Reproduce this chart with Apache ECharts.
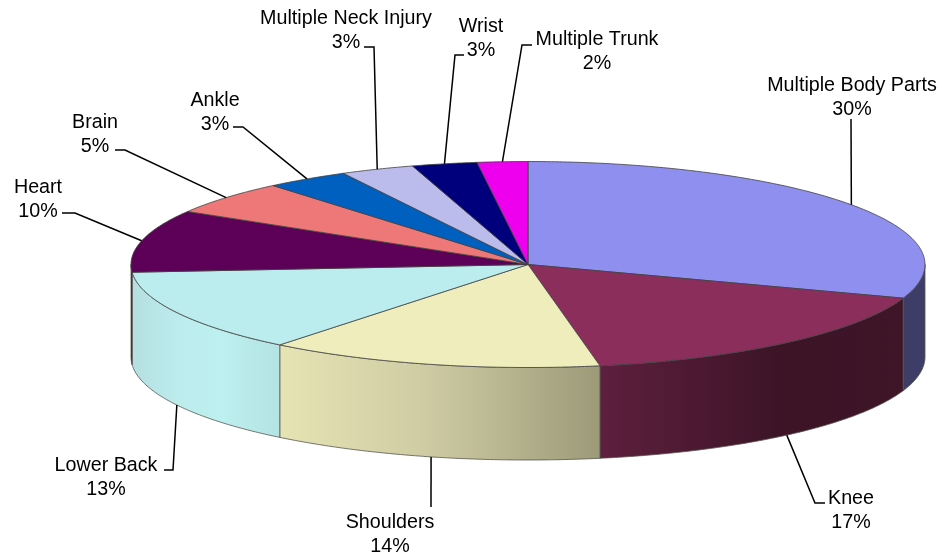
<!DOCTYPE html>
<html><head><meta charset="utf-8">
<style>html,body{margin:0;padding:0;background:#fff}#c{width:942px;height:553px}</style>
<script src="https://cdn.jsdelivr.net/npm/echarts@6/dist/echarts.min.js"></script>
</head><body><div id="c"></div>
<script>
const categories = ['Multiple Body Parts','Knee','Shoulders','Lower Back','Heart','Brain','Ankle','Multiple Neck Injury','Wrist','Multiple Trunk'];
const values = [30.3,16.8,13.65,13.05,9.8,5.3,3.4,3.0,2.65,2.05];
const topColors = ['#8f8ff0','#8c2e5c','#efedbc','#bcedee','#5d0058','#ee7777','#0060bf','#bcbcec','#00007d','#ee00ee'];
const wallStops = [
  [[0,'#3d3d68'],[1,'#3d3d68']],
  [[0,'#5e1f3e'],[0.6,'#3c1426'],[1,'#3f1528']],
  [[0,'#e6e3b4'],[0.45,'#cfcca4'],[1,'#9c9a78']],
  [[0,'#b5dfe1'],[0.3,'#bcebec'],[0.6,'#bdf0f0'],[1,'#b4e3e3']],
  [[0,'#3f0040'],[1,'#3f0040']],
  [[0,'#a05050'],[1,'#a05050']],
  [[0,'#004080'],[1,'#004080']],
  [[0,'#80809e'],[1,'#80809e']],
  [[0,'#000050'],[1,'#000050']],
  [[0,'#a000a0'],[1,'#a000a0']]
];
// label placement: centre x, first line y, leader elbow points (from label to pie)
const labelCenters = [[852,86],[851,499],[390,523],[106,466],[38,188],[95,123],[215,101],[346,19],[481,27],[597,40]];
const leaderElbows = [
  [[851,119]],
  [[825,503],[815,503]],
  [[431,507]],
  [[164,470],[173,470]],
  [[62,213],[75,213]],
  [[115,150],[125,150]],
  [[233,127],[243,127]],
  [[364,47],[374,47]],
  [[464,55],[455,55]],
  [[532,45],[522,45]]
];
const CX=528, CY=264.5, RX=397, RY=103, DEPTH=92.5;
const FONT='19.7px "Liberation Sans", Arial, sans-serif';
const total = values.reduce((a,b)=>a+b,0);
const pt=(t,dy=0)=>[CX+RX*Math.sin(t), CY-RY*Math.cos(t)+dy];
function arc(a,b,dy=0){const n=Math.max(2,Math.ceil(Math.abs(b-a)/0.01));const r=[];for(let i=0;i<=n;i++)r.push(pt(a+(b-a)*i/n,dy));return r;}
const TAU=Math.PI*2;

function renderItem(params, api){
  const i=api.value(0);
  let before=0; for(let k=0;k<i;k++) before+=values[k];
  const a=before/total*TAU, b=(before+api.value(1))/total*TAU, mid=(a+b)/2;
  const children=[];
  // visible wall: the part of the slice facing front (quarter to three-quarter turn)
  const wa=Math.max(a,Math.PI/2), wb=Math.min(b,Math.PI*1.5);
  if(wb>wa){
    const up=arc(wa,wb), lo=arc(wa,wb,DEPTH).reverse();
    const xs=up.map(p=>p[0]);
    const x0=Math.min(...xs), x1=Math.max(...xs);
    const stops=wallStops[i];
    // gradients run left-to-right on screen
    children.push({type:'polygon',shape:{points:up.concat(lo)},
      style:{fill:{type:'linear',x:x0,y:0,x2:x1,y2:0,global:true,
        colorStops:stops.map(s=>({offset:s[0],color:s[1]}))},
        stroke:'#55554f',lineWidth:0.8}});
  }
  // top face
  children.push({type:'polygon',z2:5,shape:{points:[[CX,CY]].concat(arc(a,b))},
    style:{fill:topColors[i],stroke:'#404040',lineWidth:0.8}});
  // leader: from label elbow(s) to the rim at the slice's middle
  const facing=Math.cos(mid)<0;
  const anchor=pt(mid,facing?DEPTH:0);
  children.push({type:'polyline',z2:6,shape:{points:leaderElbows[i].concat([anchor])},
    style:{fill:'none',stroke:'#000',lineWidth:1.5}});
  // label
  const pct=Math.round(api.value(1)/total*100)+'%';
  const c=labelCenters[i];
  children.push({type:'text',z2:7,style:{text:categories[i],x:c[0],y:c[1],textAlign:'center',textVerticalAlign:'middle',font:FONT,fill:'#000'}});
  children.push({type:'text',z2:7,style:{text:pct,x:c[0],y:c[1]+23.5,textAlign:'center',textVerticalAlign:'middle',font:FONT,fill:'#000'}});
  return {type:'group',children};
}
const chart=echarts.init(document.getElementById('c'),null,{renderer:'canvas'});
chart.setOption({animation:false,backgroundColor:'#fff',
  series:[{type:'custom',coordinateSystem:'none',renderItem,
    encode:{value:1},
    data:values.map((v,i)=>[i,v])}]});
</script></body></html>
